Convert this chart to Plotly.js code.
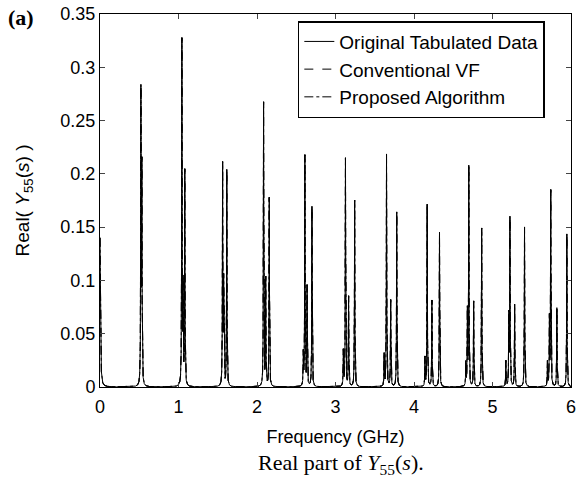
<!DOCTYPE html>
<html>
<head>
<meta charset="utf-8">
<script src="https://cdn.plot.ly/plotly-3.0.1.min.js"></script>
<style>html,body{margin:0;padding:0;background:#fff;}#chart{width:576px;height:482px;}</style>
</head>
<body>
<div id="chart"></div>
<script>
// Resonance (pole) frequencies in GHz, peak amplitudes of Real(Y55) and half-widths (GHz)
const peakFreq   = [0.000, 0.521, 0.533, 1.043, 1.058, 1.080, 1.562, 1.575, 1.615, 2.084, 2.111, 2.156,
                    2.590, 2.610, 2.638, 2.700, 3.100, 3.127, 3.167, 3.244, 3.620, 3.650, 3.703, 3.780,
                    4.140, 4.168, 4.228, 4.325, 4.660, 4.680, 4.698, 4.760, 4.862,
                    5.170, 5.208, 5.222, 5.282, 5.408, 5.700, 5.725, 5.742, 5.820, 5.947];
const peakHeight = [0.140, 0.272, 0.200, 0.323, 0.089, 0.201, 0.206, 0.095, 0.203, 0.266, 0.100, 0.177,
                    0.030, 0.216, 0.093, 0.169, 0.033, 0.214, 0.084, 0.175, 0.030, 0.218, 0.081, 0.164,
                    0.027, 0.171, 0.081, 0.145, 0.022, 0.070, 0.206, 0.080, 0.149,
                    0.024, 0.065, 0.157, 0.077, 0.150, 0.023, 0.063, 0.183, 0.074, 0.1435];
const peakWidth  = [0.006, 0.003, 0.003, 0.003, 0.003, 0.003, 0.003, 0.003, 0.003, 0.003, 0.003, 0.003,
                    0.003, 0.003, 0.003, 0.003, 0.003, 0.003, 0.003, 0.003, 0.003, 0.003, 0.003, 0.003,
                    0.003, 0.003, 0.003, 0.003, 0.003, 0.003, 0.003, 0.003, 0.003,
                    0.003, 0.003, 0.003, 0.003, 0.003, 0.003, 0.003, 0.003, 0.003, 0.003];
const seriesNames = ['Original Tabulated Data', 'Conventional VF', 'Proposed Algorithm'];
const seriesDash  = ['solid', 'dash', 'dashdot'];
const xTicks = [0, 1, 2, 3, 4, 5, 6];
const yTicks = [0, 0.05, 0.1, 0.15, 0.2, 0.25, 0.3, 0.35];

// Pole-residue (vector fitting) evaluation of the real part over the frequency sweep
const freqSet = new Set();
for (let i = 0; i <= 12000; i++) freqSet.add(+(i * 0.0005).toFixed(4));
peakFreq.forEach(f => freqSet.add(f));
const freq = Array.from(freqSet).sort((a, b) => a - b);
const realY = freq.map(f => {
  let s = 0;
  for (let k = 0; k < peakFreq.length; k++) {
    const d = (f - peakFreq[k]) / peakWidth[k];
    s += peakHeight[k] / (1 + d * d);
  }
  return s;
});

const traces = seriesNames.map((n, i) => ({
  type: 'scatter', mode: 'lines', name: n, x: freq, y: realY,
  line: {color: '#000', width: 1, dash: seriesDash[i]}
}));

const sans = '"Liberation Sans", Arial, sans-serif';
const serif = '"Liberation Serif", "Times New Roman", serif';
const font = {family: sans, size: 18, color: '#000'};
const layout = {
  width: 576, height: 482,
  margin: {l: 100, r: 5, t: 14, b: 95},
  paper_bgcolor: '#fff', plot_bgcolor: '#fff',
  font: font,
  showlegend: true,
  legend: {x: 0.42, y: 0.981, xanchor: 'left', yanchor: 'top', bgcolor: '#fff',
           bordercolor: '#000', borderwidth: 1.5, font: {family: sans, size: 19, color: '#000'},
           tracegroupgap: 0},
  xaxis: {range: [0, 6], tickvals: xTicks, ticks: 'inside', ticklen: 5, mirror: 'ticks',
          showline: true, linecolor: '#000', linewidth: 1, showgrid: false, zeroline: false,
          ticklabelstandoff: 3, ticklabeloverflow: 'allow',
          tickfont: font, title: {text: 'Frequency (GHz)', font: font, standoff: 14}},
  yaxis: {range: [0, 0.35], tickvals: yTicks, ticktext: yTicks.map(String), ticks: 'inside', ticklen: 5, mirror: 'ticks',
          showline: true, linecolor: '#000', linewidth: 1, showgrid: false, zeroline: false,
          ticklabeloverflow: 'allow',
          tickfont: font, title: {text: 'Real( <i>Y</i><sub>55</sub>(<i>s</i>) )', font: {family: sans, size: 19, color: '#000'}, standoff: 25}},
  annotations: [
    {text: '<b>(a)</b>', xref: 'paper', yref: 'paper', x: -0.167, y: 0.99, xanchor: 'center', yanchor: 'middle',
     showarrow: false, font: {family: serif, size: 22, color: '#000'}},
    {text: 'Real part of <i>Y</i><sub>55</sub>(<i>s</i>).', xref: 'paper', yref: 'paper', x: 0.512, y: -0.206,
     xanchor: 'center', yanchor: 'middle', showarrow: false,
     font: {family: serif, size: 22, color: '#000'}}
  ]
};
Plotly.newPlot('chart', traces, layout, {displayModeBar: false, staticPlot: true});
</script>
</body>
</html>
